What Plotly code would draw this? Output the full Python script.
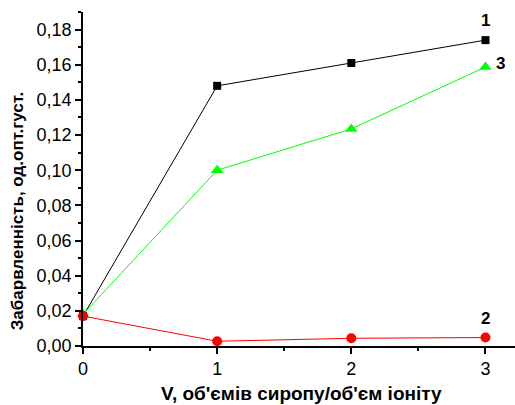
import plotly.graph_objects as go

x_vals = [0, 1, 2, 3]
series1 = [0.017, 0.148, 0.161, 0.174]
series2 = [0.017, 0.0027, 0.0044, 0.0048]
series3 = [0.018, 0.100, 0.1235, 0.1587]
labels = ["1", "2", "3"]
x_title = "V, об'ємів сиропу/об'єм іоніту"
y_title = "Забарвленність, од.опт.густ."

fig = go.Figure()
fig.add_trace(go.Scatter(x=x_vals, y=series1, mode="lines+markers",
                         line=dict(color="black", width=1),
                         marker=dict(symbol="square", size=8, color="black"),
                         cliponaxis=False))
fig.add_trace(go.Scatter(x=x_vals, y=series3, mode="lines+markers",
                         line=dict(color="#00ff00", width=1),
                         marker=dict(symbol="triangle-up", size=11, color="#00ff00"),
                         cliponaxis=False))
fig.add_trace(go.Scatter(x=x_vals, y=series2, mode="lines+markers",
                         line=dict(color="#ff0000", width=1),
                         marker=dict(symbol="circle", size=10, color="#ff0000"),
                         cliponaxis=False))

lab_font = dict(family="Liberation Sans, Arial", size=17, color="black")
fig.add_annotation(x=x_vals[-1], y=series1[-1], text="<b>%s</b>" % labels[0],
                   showarrow=False, yshift=20, font=lab_font)
fig.add_annotation(x=x_vals[-1], y=series2[-1], text="<b>%s</b>" % labels[1],
                   showarrow=False, yshift=19, font=lab_font)
fig.add_annotation(x=x_vals[-1], y=series3[-1], text="<b>%s</b>" % labels[2],
                   showarrow=False, xshift=15, yshift=4, font=lab_font)

# axis titles as annotations for exact placement
fig.add_annotation(xref="paper", yref="paper", x=(301 - 83) / 432, y=(345.7 - 393) / 334,
                   text="<b>%s</b>" % x_title, showarrow=False,
                   xanchor="center", yanchor="middle",
                   font=dict(family="Liberation Sans, Arial", size=19, color="black"))
fig.add_annotation(xref="paper", yref="paper", x=(17 - 83) / 432, y=(345.7 - 211) / 334,
                   text="<b>%s</b>" % y_title, showarrow=False, textangle=-90,
                   xanchor="center", yanchor="middle",
                   font=dict(family="Liberation Sans, Arial", size=17, color="black"))

tick_font = dict(family="Liberation Sans, Arial", size=18, color="black")

fig.update_xaxes(range=[0, 3.22], showgrid=False, zeroline=False,
                 showline=True, linecolor="black", linewidth=1.5,
                 ticks="outside", ticklen=6, tickwidth=1.5, tickcolor="black",
                 tickvals=[0, 1, 2, 3], tickfont=tick_font,
                 minor=dict(ticks="outside", ticklen=3, tickwidth=1.5, tickcolor="black", dtick=0.5, showgrid=False),
                 automargin=False)
fig.update_yaxes(range=[0, 0.19], showgrid=False, zeroline=False,
                 showline=True, linecolor="black", linewidth=1.5,
                 ticks="outside", ticklen=6, tickwidth=1.5, tickcolor="black",
                 dtick=0.02, tick0=0, tickformat=".2f", tickfont=tick_font,
                 minor=dict(ticks="outside", ticklen=3, tickwidth=1.5, tickcolor="black", dtick=0.01, showgrid=False),
                 automargin=False)

fig.update_layout(width=515, height=405, showlegend=False,
                  margin=dict(l=83, r=0, t=12, b=59),
                  plot_bgcolor="white", paper_bgcolor="white",
                  separators=", ")

fig.write_html("out.html")
